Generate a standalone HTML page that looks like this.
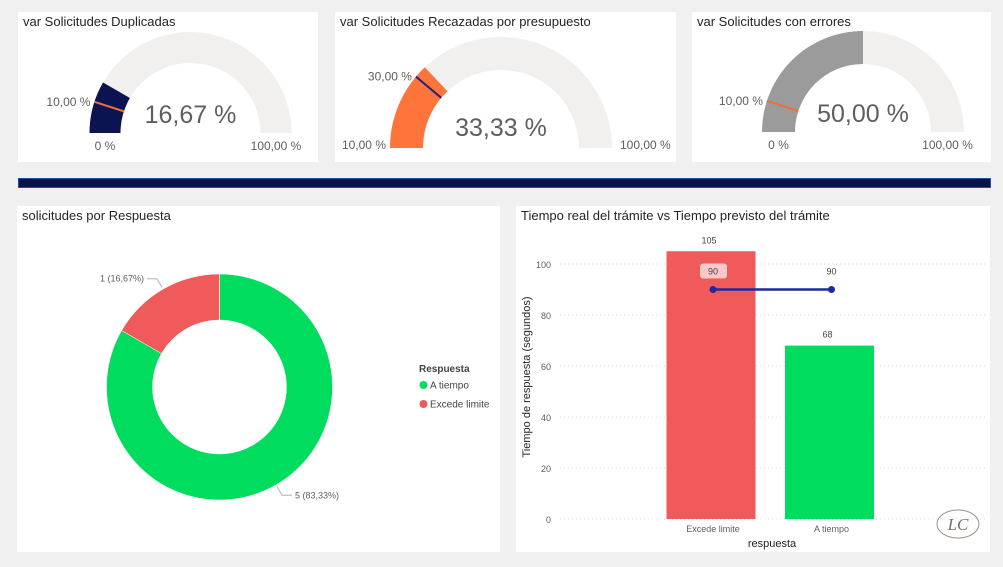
<!DOCTYPE html>
<html><head><meta charset="utf-8">
<style>
html,body{margin:0;padding:0;background:#f0f0f0;}
body{width:1003px;height:567px;position:relative;overflow:hidden;font-family:"Liberation Sans",sans-serif;}
.panel{position:absolute;background:#fff;}
.title{position:absolute;left:5px;top:2px;font-size:13px;color:#252423;white-space:nowrap;}
svg{position:absolute;left:0;top:0;}
</style></head><body>
<div class="panel" style="left:18px;top:12px;width:300px;height:150px;"><div class="title">var Solicitudes Duplicadas</div></div>
<div class="panel" style="left:335px;top:12px;width:341px;height:150px;"><div class="title">var Solicitudes Recazadas por presupuesto</div></div>
<div class="panel" style="left:692px;top:12px;width:299px;height:150px;"><div class="title">var Solicitudes con errores</div></div>
<div style="position:absolute;left:18px;top:178px;width:971px;height:8px;background:#0a1248;border:1px solid #1e4fa0;"></div>
<div class="panel" style="left:17px;top:206px;width:483px;height:346px;"><div class="title">solicitudes por Respuesta</div></div>
<div class="panel" style="left:516px;top:206px;width:474px;height:346px;"><div class="title">Tiempo real del trámite vs Tiempo previsto del trámite</div></div>
<svg id="chart" width="1003" height="567"></svg>
<script>
// Gauge data
const gaugeNames=["duplicadas","rechazadas","errores"];
const gaugeValues=[16.67,33.33,50.00];
const gaugeTargets=[10,30,10];
const gaugeMins=[0,10,0];
const gaugeMaxs=[100,100,100];
const gaugeValueLabels=["16,67 %","33,33 %","50,00 %"];
const gaugeTargetLabels=["10,00 %","30,00 %","10,00 %"];
const gaugeMinLabels=["0 %","10,00 %","0 %"];
const gaugeMaxLabels=["100,00 %","100,00 %","100,00 %"];
// Donut data
const donutCats=["A tiempo","Excede limite"];
const donutValues=[5,1];
const donutLabels=["5 (83,33%)","1 (16,67%)"];
// Bar data
const barCats=["Excede limite","A tiempo"];
const barValues=[105,68];
const lineValues=[90,90];
const yTicks=[0,20,40,60,80,100];

const NS="http://www.w3.org/2000/svg";
const svg=document.getElementById('chart');
function el(tag,attrs,parent){const e=document.createElementNS(NS,tag);for(const k in attrs)e.setAttribute(k,attrs[k]);(parent||svg).appendChild(e);return e;}
function txt(x,y,s,attrs){const t=el('text',Object.assign({x:x,y:y,'font-family':'Liberation Sans, sans-serif'},attrs));t.textContent=s;return t;}

// Gauges
const gGeom=[{cx:190.5,cy:133,r:101,ir:70,fill:"#0b1350",tcol:"#e8703a"},{cx:501,cy:148,r:111,ir:78,fill:"#fe743a",tcol:"#1a237e"},{cx:863,cy:132,r:101,ir:68,fill:"#9b9b9b",tcol:"#e8703a"}];
function arcPath(cx,cy,r,ir,f0,f1){
  const p=(rr,f)=>[cx-rr*Math.cos(Math.PI*f),cy-rr*Math.sin(Math.PI*f)];
  const a=p(r,f0),b=p(r,f1),c=p(ir,f1),d=p(ir,f0);
  return `M${a[0]},${a[1]} A${r},${r} 0 0 1 ${b[0]},${b[1]} L${c[0]},${c[1]} A${ir},${ir} 0 0 0 ${d[0]},${d[1]} Z`;
}
gaugeNames.forEach((n,i)=>{
  const g=gGeom[i],mn=gaugeMins[i],mx=gaugeMaxs[i];
  const fv=(gaugeValues[i]-mn)/(mx-mn), ft=(gaugeTargets[i]-mn)/(mx-mn);
  const bg=el('path',{d:arcPath(g.cx,g.cy,g.r,g.ir,0,1),fill:'#f1f0ef'});
  
  
  const fg=el('path',{d:arcPath(g.cx,g.cy,g.r,g.ir,0,fv),fill:g.fill});
  
  
  const a=Math.PI*ft;
  const tl=el('line',{x1:g.cx-g.r*Math.cos(a),y1:g.cy-g.r*Math.sin(a),x2:g.cx-g.ir*Math.cos(a),y2:g.cy-g.ir*Math.sin(a),stroke:g.tcol,'stroke-width':2});
  
  
  const t1=txt(g.cx-g.r*Math.cos(a)-4,g.cy-g.r*Math.sin(a)+4,gaugeTargetLabels[i],{'font-size':12,fill:'#605e5c','text-anchor':'end'});
  
  
  const mnx=i===1?g.cx-g.r-4:g.cx-(g.r+g.ir)/2;
  const t2=txt(mnx,g.cy+i===1?0:0,gaugeMinLabels[i],{'font-size':12,fill:'#605e5c','text-anchor':i===1?'end':'middle'});
  t2.setAttribute('y',i===1?g.cy+1:g.cy+17);
  
  
  const t3=txt(i===1?g.cx+g.r+8:g.cx+(g.r+g.ir)/2,i===1?g.cy+1:g.cy+17,gaugeMaxLabels[i],{'font-size':12,fill:'#605e5c','text-anchor':i===1?'start':'middle'});
  
  
  const t4=txt(g.cx,g.cy-(i===1?12:10),gaugeValueLabels[i],{'font-size':25,fill:'#605e5c','text-anchor':'middle'});
  
  
});

// Donut
const dcx=219.5,dcy=387,dr=113,dir=67;
const dColors=["#00dc5e","#f15a5a"];
const total=donutValues.reduce((a,b)=>a+b,0);
let acc=0;
donutCats.forEach((c,i)=>{
  const a0=acc/total*2*Math.PI; acc+=donutValues[i]; const a1=acc/total*2*Math.PI;
  const P=(r,a)=>[dcx+r*Math.sin(a),dcy-r*Math.cos(a)];
  const p0=P(dr,a0),p1=P(dr,a1),p2=P(dir,a1),p3=P(dir,a0);
  const large=(a1-a0)>Math.PI?1:0;
  const s=el('path',{d:`M${p0[0]},${p0[1]} A${dr},${dr} 0 ${large} 1 ${p1[0]},${p1[1]} L${p2[0]},${p2[1]} A${dir},${dir} 0 ${large} 0 ${p3[0]},${p3[1]} Z`,fill:dColors[i],stroke:'#fff','stroke-width':0.5});
  
  
  const am=(a0+a1)/2, q=P(dr+2,am), q2=P(dr+12,am);
  const right=Math.sin(am)>=0;
  const ex=q2[0]+(right?10:-10);
  const ll=el('polyline',{points:`${q[0]},${q[1]} ${q2[0]},${q2[1]} ${ex},${q2[1]}`,fill:'none',stroke:'#b0b0b0','stroke-width':1});
  
  
  const lt=txt(ex+(right?3:-3),q2[1]+3,donutLabels[i],{'font-size':9,fill:'#605e5c','text-anchor':right?'start':'end'});
  
  
});
const lgT=txt(419,372,"Respuesta",{'font-size':10,'font-weight':'bold',fill:'#444'});


donutCats.forEach((c,i)=>{
  const y=385+i*19;
  const d=el('circle',{cx:423.5,cy:y,r:4,fill:dColors[i]});
  
  
  const t=txt(430,y+3.5,c,{'font-size':10,fill:'#444'});
  
  
});

// Bar chart
const y0=519,pxPer=2.55,plotL=560,plotR=985;
const yS=v=>y0-v*pxPer;
const bandC=[711,829.5],bw=89;
const bColors=["#f15a5a","#00dc5e"];
yTicks.forEach(v=>{
  const gl=el('line',{x1:plotL,x2:plotR,y1:yS(v),y2:yS(v),stroke:'#d8d8d8','stroke-dasharray':'1,3'});
  
  
  const t=txt(551,yS(v)+4,String(v),{'font-size':9,fill:'#605e5c','text-anchor':'end'});
  
  
});
barCats.forEach((c,i)=>{
  const b=el('rect',{x:bandC[i]-bw/2,y:yS(barValues[i]),width:bw,height:barValues[i]*pxPer,fill:bColors[i]});
  
  
  const t=txt(bandC[i]-2,yS(barValues[i])-8,String(barValues[i]),{'font-size':9,fill:'#444','text-anchor':'middle'});
  
  
  const xl=txt(bandC[i]+2,532,c,{'font-size':9,fill:'#605e5c','text-anchor':'middle'});
  
  
});
const lpts=lineValues.map((v,i)=>`${bandC[i]+2},${yS(v)}`).join(' ');
const ln=el('polyline',{points:lpts,fill:'none',stroke:'#1a2aa0','stroke-width':2.5});


lineValues.forEach((v,i)=>{
  const c=el('circle',{cx:bandC[i]+2,cy:yS(v),r:3.5,fill:'#1a2aa0'});
  
  
  if(i===0){
    const bx=el('rect',{x:bandC[i]-11,y:yS(v)-26,width:27,height:15,rx:3,fill:'#f9c8c8'});
    
    
  }
  const t=txt(bandC[i]+2,yS(v)-15,String(v),{'font-size':9,fill:'#444','text-anchor':'middle'});
  
  
});
const yt=txt(0,0,"Tiempo de respuesta (segundos)",{'font-size':11,fill:'#252423','text-anchor':'middle',transform:'translate(530,377) rotate(-90)'});


const xt=txt(772,547,"respuesta",{'font-size':11,fill:'#252423','text-anchor':'middle'});


// logo
const lg=el('ellipse',{cx:958,cy:524,rx:21,ry:14,fill:'none',stroke:'#9a9088','stroke-width':1});


const lgt=txt(958,530,"LC",{'font-size':17,'font-style':'italic',fill:'#7a6f68','text-anchor':'middle','font-family':'Liberation Serif, serif'});


</script>
</body></html>
